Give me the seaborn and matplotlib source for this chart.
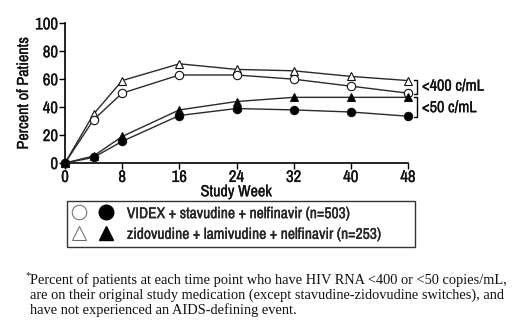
import matplotlib
matplotlib.use("Agg")
import matplotlib.pyplot as plt
import matplotlib.patheffects as pe
import seaborn as sns
import pandas as pd
from matplotlib.lines import Line2D
from matplotlib.legend_handler import HandlerTuple

weeks = [0, 4, 8, 16, 24, 32, 40, 48]
zid_400 = [0, 35, 59, 71, 67, 66, 62, 59]
vid_400 = [0, 31, 50, 63, 63, 60, 55, 50]
zid_50 = [0, 5, 19, 38, 44, 47, 47, 47]
vid_50 = [0, 4, 15.5, 34, 39, 38, 36.5, 33.5]
x_ticks = [0, 8, 16, 24, 32, 40, 48]
y_ticks = [0, 20, 40, 60, 80, 100]
legend_labels = ["VIDEX + stavudine + nelfinavir (n=503)",
                 "zidovudine + lamivudine + nelfinavir (n=253)"]
bracket_labels = ["<400 c/mL", "<50 c/mL"]
footnote = ["Percent of patients at each time point who have HIV RNA <400 or <50 copies/mL,",
            "are on their original study medication (except stavudine-zidovudine switches), and",
            "have not experienced an AIDS-defining event."]

sns.set_style("ticks")
NARROW = ["Archivo Narrow", "DejaVu Sans"]
SERIF = ["Liberation Serif", "DejaVu Serif"]
plt.rcParams["font.family"] = NARROW
FS = 11.6
BOLDEN = [pe.withStroke(linewidth=0.2, foreground="#111111")]

series = {
    "zid_400": (zid_400, "^", "white"),
    "vid_400": (vid_400, "o", "white"),
    "zid_50": (zid_50, "^", "black"),
    "vid_50": (vid_50, "o", "black"),
}
rows = []
for name, (vals, _, _) in series.items():
    for w, v in zip(weeks, vals):
        rows.append({"week": w, "pct": v, "series": name})
df = pd.DataFrame(rows)

fig = plt.figure(figsize=(5.28, 3.33), dpi=100)
ax = fig.add_axes([65/528, 1-163/333, (408-65)/528, (163-23.3)/333])

for name, (vals, mk, fc) in series.items():
    sub = df[df["series"] == name]
    sns.lineplot(data=sub, x="week", y="pct", ax=ax, color="#2a2a2a", lw=1.0,
                 marker=mk, markersize=6 if mk == "o" else 6.3,
                 markerfacecolor=fc, markeredgecolor="#111111", markeredgewidth=0.8,
                 clip_on=False, zorder=3, legend=False)

ax.set_xlim(0, 48)
ax.set_ylim(0, 100)
ax.set_xticks(x_ticks)
ax.set_yticks(y_ticks)
ax.tick_params(labelsize=FS + 0.4, length=4, width=1, color="black", labelcolor="#111111", pad=1)
for s in ["left", "bottom"]:
    ax.spines[s].set_linewidth(1.2)
    ax.spines[s].set_color("black")
sns.despine(ax=ax)
ax.set_xlabel("Study Week", fontsize=FS, labelpad=-0.5, color="#111111")
ax.set_ylabel("Percent of Patients", fontsize=FS, labelpad=3, color="#111111")

# brackets
bx = 49.2
for (y0, y1), lab, ly in zip([(49.3, 59.3), (33, 47)], bracket_labels, [55, 39.6]):
    ax.plot([bx - 0.4, bx, bx, bx - 0.4], [y1, y1, y0, y0], color="black", lw=1.0, clip_on=False)
    ax.text(bx + 0.75, ly, lab, fontsize=FS, va="center", ha="left", color="#111111",
            clip_on=False, path_effects=BOLDEN)

# legend
h1 = (Line2D([], [], ls="none", marker="o", markersize=10.5, mfc="white", mec="#666666", mew=0.7),
      Line2D([], [], ls="none", marker="o", markersize=10.5, mfc="black", mec="black"))
h2 = (Line2D([], [], ls="none", marker="^", markersize=10.5, mfc="white", mec="#666666", mew=0.7),
      Line2D([], [], ls="none", marker="^", markersize=10.5, mfc="black", mec="black"))
LFS = 11.2
leg = fig.legend([h1, h2], legend_labels,
                 handler_map={tuple: HandlerTuple(ndivide=None, pad=0.77)},
                 loc="upper left", bbox_to_anchor=(67/528, 1-204.5/333, (415-67)/528, 0.01),
                 mode="expand", fontsize=LFS, frameon=True, fancybox=False,
                 handlelength=2.7, handletextpad=0.85, borderpad=0.3, labelspacing=0.35,
                 borderaxespad=0, handleheight=1.0)
leg.get_frame().set_edgecolor("black")
leg.get_frame().set_linewidth(1.0)

for t in leg.get_texts() + ax.get_xticklabels() + ax.get_yticklabels() + [ax.xaxis.label, ax.yaxis.label]:
    t.set_path_effects(BOLDEN)

# footnote
fig.text(25/528, 1-276/333, "*", fontsize=7.5, family=SERIF, va="center", ha="left")
for i, line in enumerate(footnote):
    fig.text(30/528, 1-(280 + 15*i)/333, line, fontsize=10.4, family=SERIF,
             va="center", ha="left", color="#111111")

fig.savefig("out.png", dpi=100)
